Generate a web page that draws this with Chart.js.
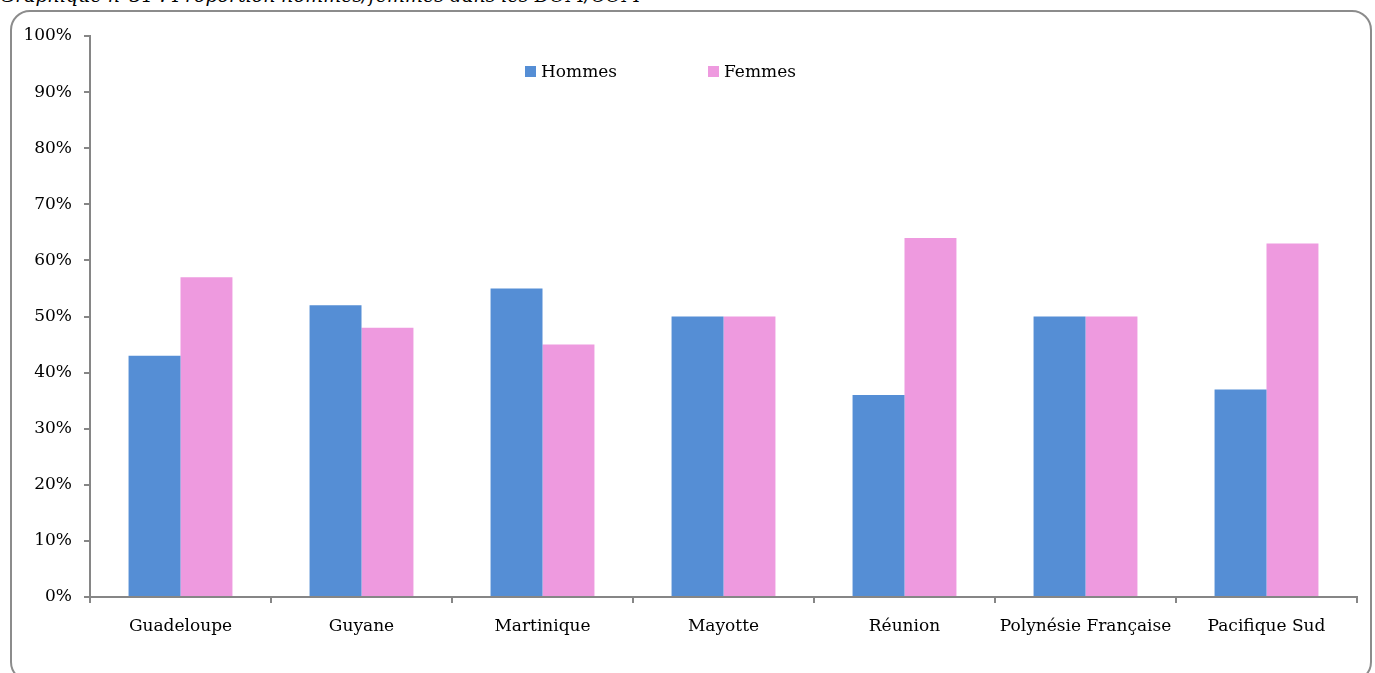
<!DOCTYPE html>
<html><head><meta charset="utf-8">
<script src="https://cdn.jsdelivr.net/npm/chart.js@4/dist/chart.umd.min.js"></script>
<style>
html,body{margin:0;padding:0;background:#fff;width:1375px;height:673px;overflow:hidden;font-family:"DejaVu Serif",serif;}
#title{position:absolute;left:0;top:-14px;font-style:italic;font-size:19px;line-height:19px;white-space:nowrap;color:#000;}
#frame{position:absolute;left:10px;top:10px;width:1362px;height:672px;border:2px solid #8c8c8c;border-radius:20px;box-sizing:border-box;}
#wrap{position:absolute;left:0;top:0;width:1375px;height:673px;}
#legend{position:absolute;top:60px;left:525px;font-size:17px;color:#000;}
#legend span.item{position:absolute;white-space:nowrap;line-height:22px;}
#legend span.box{display:inline-block;width:11px;height:11px;margin-right:5px;vertical-align:0px;}
</style></head>
<body>
<div id="title">Graphique n°31 : Proportion hommes/femmes dans les DOM/COM</div>
<div id="frame"></div>
<div id="wrap"><canvas id="c" width="1375" height="673"></canvas></div>
<div id="legend"></div>
<script>
const categories = ["Guadeloupe","Guyane","Martinique","Mayotte","Réunion","Polynésie Française","Pacifique Sud"];
const hommes = [43,52,55,50,36,50,37];
const femmes = [57,48,45,50,64,50,63];
const seriesNames = ["Hommes","Femmes"];
const seriesColors = ["#558ED5","#EE9ADF"];
const yTicks = [0,10,20,30,40,50,60,70,80,90,100];

const legend = document.getElementById('legend');
const legendOffsets = [0,183];
seriesNames.forEach((n,i)=>{
  const s=document.createElement('span');s.className='item';s.style.left=legendOffsets[i]+'px';
  s.innerHTML='<span class="box" style="background:'+seriesColors[i]+'"></span>'+n;
  legend.appendChild(s);
});

Chart.defaults.font.family = '"DejaVu Serif",serif';
Chart.defaults.font.size = 17;
Chart.defaults.color = '#000';
const axisColor = '#868686';
new Chart(document.getElementById('c'),{
  type:'bar',
  data:{labels:categories,datasets:[
    {label:seriesNames[0],data:hommes,backgroundColor:seriesColors[0],barPercentage:1,categoryPercentage:0.574},
    {label:seriesNames[1],data:femmes,backgroundColor:seriesColors[1],barPercentage:1,categoryPercentage:0.574}
  ]},
  options:{
    responsive:false,animation:false,
    layout:{padding:{left:10,top:36,right:18,bottom:0}},
    plugins:{legend:{display:false},tooltip:{enabled:false}},
    scales:{
      x:{
        grid:{display:true,drawOnChartArea:false,drawTicks:true,tickLength:6,color:axisColor,lineWidth:2,offset:true},
        border:{display:true,color:axisColor,width:2},
        ticks:{padding:13,maxRotation:0,autoSkip:false,color:'#000'},
        afterFit:(s)=>{s.height=76;}
      },
      y:{
        min:0,max:100,
        afterBuildTicks:(s)=>{s.ticks=yTicks.map(v=>({value:v}));},
        grid:{display:true,drawOnChartArea:false,drawTicks:true,tickLength:6,color:axisColor,lineWidth:2},
        border:{display:true,color:axisColor,width:2},
        ticks:{padding:12,color:'#000',callback:(v)=>v+'%'},
        afterFit:(s)=>{s.width=80;}
      }
    }
  }
});
</script>
</body></html>
